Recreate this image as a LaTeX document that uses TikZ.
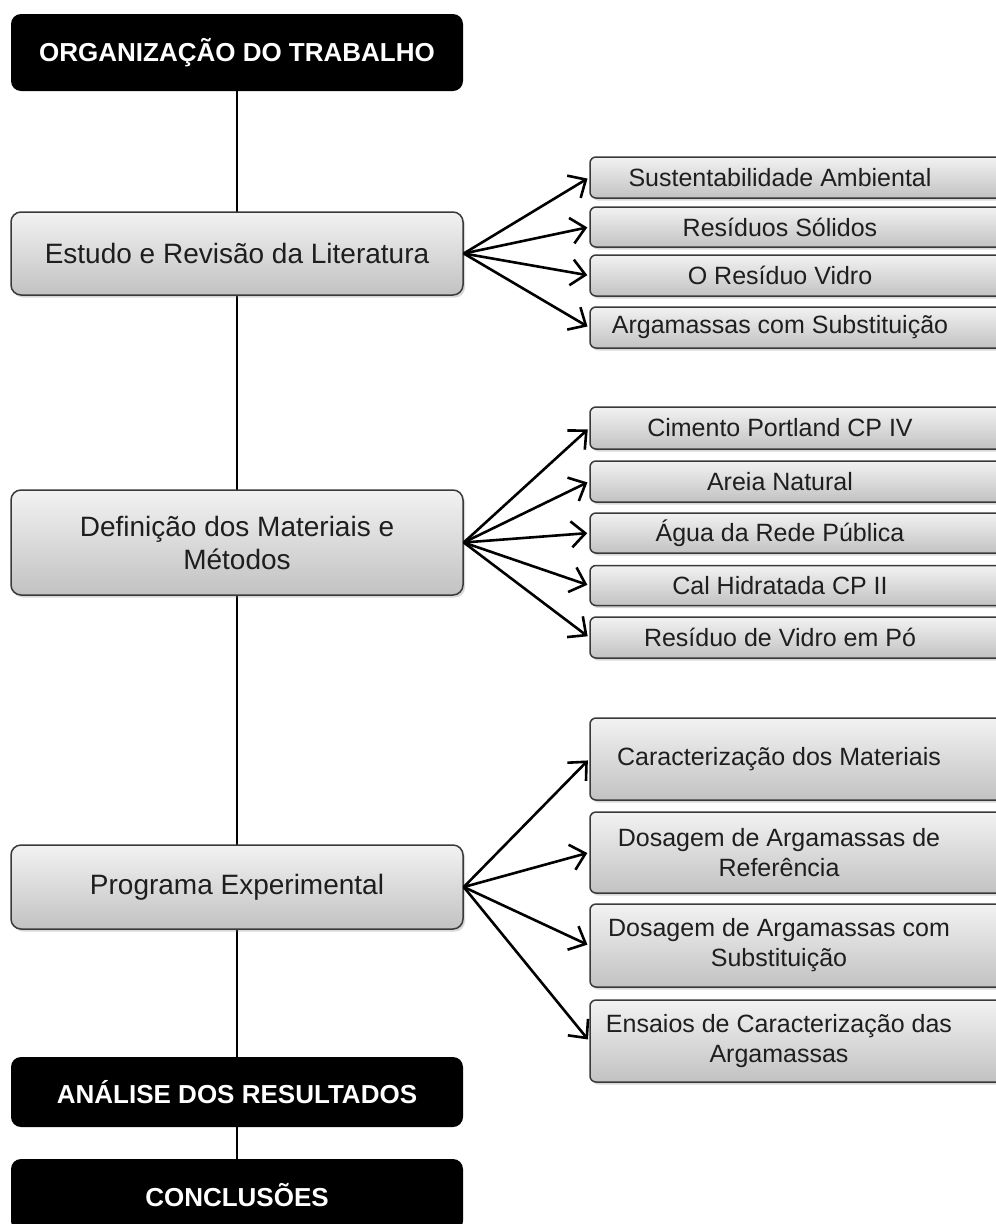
\documentclass[tikz,border=0pt]{standalone}
\usepackage{fontspec}
\setmainfont{Liberation Sans}
\usetikzlibrary{arrows.meta,shadows}
\definecolor{gtop}{HTML}{F2F2F2}
\definecolor{gbot}{HTML}{C2C2C2}
\definecolor{bord}{HTML}{3A3A3A}
\definecolor{txt}{HTML}{1E1E1E}
\pgfdeclarelayer{bg}
\pgfsetlayers{bg,main}
\begin{document}
\begin{tikzpicture}[x=1pt,y=-1pt,
  graybox/.style={draw=bord, line width=1.5pt, rounded corners=10pt,
    top color=gtop, bottom color=gbot,
    drop shadow={shadow xshift=2pt,shadow yshift=-2.5pt,opacity=0.3},
    minimum width=452pt, inner sep=0pt, align=center, text=txt,
    font=\fontsize{28}{33}\selectfont},
  blackbox/.style={fill=black, rounded corners=10pt, minimum width=452pt,
    inner sep=0pt, text=white, font=\bfseries\fontsize{26}{30}\selectfont},
  rbox/.style={draw=bord, line width=1.5pt, rounded corners=6pt,
    top color=gtop, bottom color=gbot,
    drop shadow={shadow xshift=2pt,shadow yshift=-2.5pt,opacity=0.3},
    minimum width=420pt, inner sep=0pt},
  rtext/.style={align=center, inner sep=0pt, text=txt,
    font=\fontsize{25}{30}\selectfont},
  arr/.style={-{Straight Barb[length=14pt,width=26pt]},
    line width=2.6pt, shorten >=2pt}
]
\useasboundingbox (0,0) rectangle (996,1224);
\clip (0,0) rectangle (996,1224);

% left column
\node[blackbox, minimum height=77pt] (top) at (237,52.5) {ORGANIZAÇÃO DO TRABALHO};
\node[graybox, minimum height=83pt] (estudo) at (237,253.5) {Estudo e Revisão da Literatura};
\node[graybox, minimum height=105pt] (defin) at (237,542.5) {Definição dos Materiais e\\Métodos};
\node[graybox, minimum height=84pt] (prog) at (237,887) {Programa Experimental};
\node[blackbox, minimum height=70pt] (anal) at (237,1092) {ANÁLISE DOS RESULTADOS};
\node[blackbox, minimum height=72pt] (conc) at (237,1195) {CONCLUSÕES};

\begin{pgfonlayer}{bg}
\fill[white] (0,0) rectangle (996,1224);
\draw[line width=2pt] (top.south) -- (conc.north);
\end{pgfonlayer}

% group 1
\node[rbox, minimum height=41pt] (a1) at (800,177.5) {};
\node[rbox, minimum height=40pt] (a2) at (800,227) {};
\node[rbox, minimum height=41pt] (a3) at (800,275.5) {};
\node[rbox, minimum height=41pt] (a4) at (800,327.5) {};
\node[rtext] (ta1) at (780,177.5) {Sustentabilidade Ambiental};
\node[rtext] (ta2) at (780,227) {Resíduos Sólidos};
\node[rtext] (ta3) at (780,275.5) {O Resíduo Vidro};
\node[rtext] (ta4) at (780,327.5) {Argamassas com Substituição};
\foreach \n in {a1,a2,a3,a4} \draw[arr] (estudo.east) -- (\n.west);

% group 2
\node[rbox, minimum height=42pt] (b1) at (800,428) {};
\node[rbox, minimum height=41pt] (b2) at (800,481.5) {};
\node[rbox, minimum height=40pt] (b3) at (800,533) {};
\node[rbox, minimum height=40pt] (b4) at (800,585.5) {};
\node[rbox, minimum height=41pt] (b5) at (800,637.5) {};
\node[rtext] (tb1) at (780,428) {Cimento Portland CP IV};
\node[rtext] (tb2) at (780,481.5) {Areia Natural};
\node[rtext] (tb3) at (780,533) {Água da Rede Pública};
\node[rtext] (tb4) at (780,585.5) {Cal Hidratada CP II};
\node[rtext] (tb5) at (780,637.5) {Resíduo de Vidro em Pó};
\foreach \n in {b1,b2,b3,b4,b5} \draw[arr] (defin.east) -- (\n.west);

% group 3
\node[rbox, minimum height=82pt] (c1) at (800,759) {};
\node[rbox, minimum height=81pt] (c2) at (800,852.5) {};
\node[rbox, minimum height=83pt] (c3) at (800,945.5) {};
\node[rbox, minimum height=82pt] (c4) at (800,1041) {};
\node[rtext] (tc1) at (779,759) {Caracterização dos Materiais};
\node[rtext] (tc2) at (779,852.5) {Dosagem de Argamassas de\\Referência};
\node[rtext] (tc3) at (779,945.5) {Dosagem de Argamassas com\\Substituição};
\node[rtext] (tc4) at (779,1041) {Ensaios de Caracterização das\\Argamassas};
\foreach \n in {c1,c2,c3,c4} \draw[arr] (prog.east) -- (\n.west);
\end{tikzpicture}
\end{document}
